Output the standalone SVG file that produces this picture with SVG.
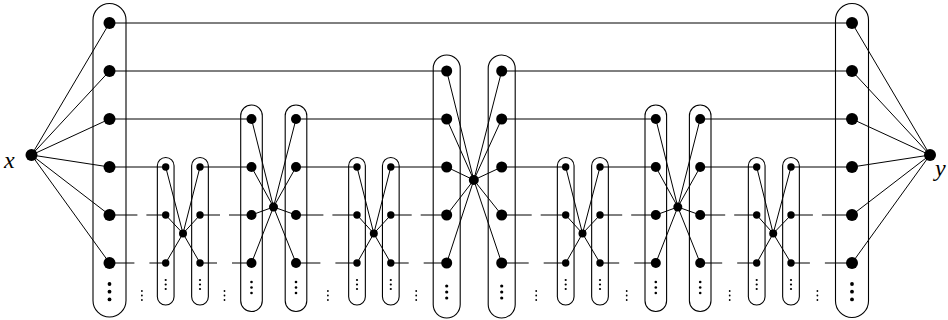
<svg xmlns="http://www.w3.org/2000/svg" xmlns:xlink="http://www.w3.org/1999/xlink" width="948" height="320" viewBox="0 0 948 320">
<style>
.cap{fill:none;stroke:#000;stroke-width:1.1}
.e{stroke:#000;stroke-width:1;fill:none}
circle{fill:#000}
.lbl{font-family:"Liberation Serif","DejaVu Serif",serif;font-style:italic;font-size:24px;fill:#000}
</style>
<defs>
<g id="dBig"><circle cx="0" cy="0" r="1.9"/><circle cx="0" cy="7.7" r="1.9"/><circle cx="0" cy="15.4" r="1.9"/></g>
<g id="dBP"><circle cx="0" cy="0" r="1.6"/><circle cx="0" cy="6" r="1.6"/><circle cx="0" cy="12" r="1.6"/></g>
<g id="dMed"><circle cx="0" cy="0" r="1.3"/><circle cx="0" cy="5.5" r="1.3"/><circle cx="0" cy="11" r="1.3"/></g>
<g id="dSm"><circle cx="0" cy="0" r="1.1"/><circle cx="0" cy="4.5" r="1.1"/><circle cx="0" cy="9" r="1.1"/></g>
<g id="dBt"><circle cx="0" cy="0" r="0.9"/><circle cx="0" cy="4.5" r="0.9"/><circle cx="0" cy="9" r="0.9"/></g>
</defs>

<g id="connectors" class="e">
<!-- x and y fans -->
<path d="M31.5 155L109.5 23M31.5 155L109.5 71M31.5 155L109.5 119M31.5 155L109.5 167M31.5 155L109.5 215M31.5 155L109.5 263"/>
<path d="M930 155L852 23M930 155L852 71M930 155L852 119M930 155L852 167M930 155L852 215M930 155L852 263"/>
<!-- row 0 -->
<path d="M109.5 23H852"/>
<!-- row 1 -->
<path d="M109.5 71H446.7M501.7 71H852"/>
<!-- row 2 -->
<path d="M109.5 119H251.5M296 119H446.7M501.7 119H655.8M700.2 119H852"/>
<!-- row 3 -->
<path d="M109.5 167H165.7M200 167H251.5M296 167H357M390.8 167H446.7M501.7 167H565.7M600 167H655.8M700.2 167H756.7M791 167H852"/>
<!-- row 4 (broken) -->
<path d="M109.5 215H137.4M146.4 215H165.7M200 215H220M229 215H251.5M296 215H323.4M332.4 215H357M390.8 215H411.7M420.7 215H446.7M501.7 215H531.7M540.7 215H565.7M600 215H622.2M631.2 215H655.8M700.2 215H725.2M734.2 215H756.7M791 215H812.9M821.9 215H852"/>
<!-- row 5 (broken) -->
<path d="M109.5 263H134.4M149.4 263H165.7M200 263H217M232 263H251.5M296 263H320.4M335.4 263H357M390.8 263H408.7M423.7 263H446.7M501.7 263H528.7M543.7 263H565.7M600 263H619.2M634.2 263H655.8M700.2 263H722.2M737.2 263H756.7M791 263H809.9M824.9 263H852"/>
<!-- small pair 1 -->
<path d="M183 233.5L165.7 167M183 233.5L165.7 215M183 233.5L165.7 263M183 233.5L200 167M183 233.5L200 215M183 233.5L200 263"/>
<!-- small pair 2 -->
<path d="M373.8 233.5L357 167M373.8 233.5L357 215M373.8 233.5L357 263M373.8 233.5L390.8 167M373.8 233.5L390.8 215M373.8 233.5L390.8 263"/>
<!-- small pair 3 -->
<path d="M582.5 233.5L565.7 167M582.5 233.5L565.7 215M582.5 233.5L565.7 263M582.5 233.5L600 167M582.5 233.5L600 215M582.5 233.5L600 263"/>
<!-- small pair 4 -->
<path d="M773.2 233.5L756.7 167M773.2 233.5L756.7 215M773.2 233.5L756.7 263M773.2 233.5L791 167M773.2 233.5L791 215M773.2 233.5L791 263"/>
<!-- medium pair 1 -->
<path d="M273.5 207L251.5 119M273.5 207L251.5 167M273.5 207L251.5 215M273.5 207L251.5 263M273.5 207L296 119M273.5 207L296 167M273.5 207L296 215M273.5 207L296 263"/>
<!-- medium pair 2 -->
<path d="M677.8 207L655.8 119M677.8 207L655.8 167M677.8 207L655.8 215M677.8 207L655.8 263M677.8 207L700.2 119M677.8 207L700.2 167M677.8 207L700.2 215M677.8 207L700.2 263"/>
<!-- big pair -->
<path d="M473.8 180L446.7 71M473.8 180L446.7 119M473.8 180L446.7 167M473.8 180L446.7 215M473.8 180L446.7 263M473.8 180L501.7 71M473.8 180L501.7 119M473.8 180L501.7 167M473.8 180L501.7 215M473.8 180L501.7 263"/>
</g>

<g id="node-x">
<circle cx="31.5" cy="155" r="6"/>
<text class="lbl" x="4" y="168">x</text>
</g>
<g id="node-y">
<circle cx="930" cy="155" r="6"/>
<text class="lbl" x="935" y="176">y</text>
</g>

<g id="col-left">
<rect class="cap" x="93" y="3.5" width="33" height="313.5" rx="16.5"/>
<circle cx="109.5" cy="23" r="6"/><circle cx="109.5" cy="71" r="6"/><circle cx="109.5" cy="119" r="6"/>
<circle cx="109.5" cy="167" r="6"/><circle cx="109.5" cy="215" r="6"/><circle cx="109.5" cy="263" r="6"/>
<use xlink:href="#dBig" x="109.5" y="284"/>
</g>
<g id="col-right">
<rect class="cap" x="835.5" y="3.5" width="33" height="314" rx="16.5"/>
<circle cx="852" cy="23" r="6"/><circle cx="852" cy="71" r="6"/><circle cx="852" cy="119" r="6"/>
<circle cx="852" cy="167" r="6"/><circle cx="852" cy="215" r="6"/><circle cx="852" cy="263" r="6"/>
<use xlink:href="#dBig" x="852" y="284"/>
</g>

<!-- small pair 1 -->
<g id="s1-left">
<rect class="cap" x="157.35" y="157.5" width="16.7" height="147.5" rx="8.35"/>
<circle cx="165.7" cy="167" r="3.7"/><circle cx="165.7" cy="215" r="3.7"/><circle cx="165.7" cy="263" r="3.7"/>
<use xlink:href="#dSm" x="165.7" y="280"/>
</g>
<g id="s1-right">
<rect class="cap" x="191.65" y="157.5" width="16.7" height="147.5" rx="8.35"/>
<circle cx="200" cy="167" r="3.7"/><circle cx="200" cy="215" r="3.7"/><circle cx="200" cy="263" r="3.7"/>
<use xlink:href="#dSm" x="200" y="280"/>
</g>
<g id="s1-center"><circle cx="183" cy="233.5" r="4"/></g>

<!-- medium pair 1 -->
<g id="m1-left">
<rect class="cap" x="240.7" y="105" width="21.6" height="206.5" rx="10.8"/>
<circle cx="251.5" cy="119" r="5"/><circle cx="251.5" cy="167" r="5"/><circle cx="251.5" cy="215" r="5"/><circle cx="251.5" cy="263" r="5"/>
<use xlink:href="#dMed" x="251.5" y="282"/>
</g>
<g id="m1-right">
<rect class="cap" x="285.2" y="105" width="21.6" height="206.5" rx="10.8"/>
<circle cx="296" cy="119" r="5"/><circle cx="296" cy="167" r="5"/><circle cx="296" cy="215" r="5"/><circle cx="296" cy="263" r="5"/>
<use xlink:href="#dMed" x="296" y="282"/>
</g>
<g id="m1-center"><circle cx="273.5" cy="207" r="4.5"/></g>

<!-- small pair 2 -->
<g id="s2-left">
<rect class="cap" x="348.65" y="157.5" width="16.7" height="147.5" rx="8.35"/>
<circle cx="357" cy="167" r="3.7"/><circle cx="357" cy="215" r="3.7"/><circle cx="357" cy="263" r="3.7"/>
<use xlink:href="#dSm" x="357" y="280"/>
</g>
<g id="s2-right">
<rect class="cap" x="382.45" y="157.5" width="16.7" height="147.5" rx="8.35"/>
<circle cx="390.8" cy="167" r="3.7"/><circle cx="390.8" cy="215" r="3.7"/><circle cx="390.8" cy="263" r="3.7"/>
<use xlink:href="#dSm" x="390.8" y="280"/>
</g>
<g id="s2-center"><circle cx="373.8" cy="233.5" r="4"/></g>

<!-- big pair -->
<g id="b-left">
<rect class="cap" x="433.2" y="55" width="27" height="263" rx="13.5"/>
<circle cx="446.7" cy="71" r="5.5"/><circle cx="446.7" cy="119" r="5.5"/><circle cx="446.7" cy="167" r="5.5"/><circle cx="446.7" cy="215" r="5.5"/><circle cx="446.7" cy="263" r="5.5"/>
<use xlink:href="#dBP" x="446.7" y="286"/>
</g>
<g id="b-right">
<rect class="cap" x="488.2" y="55" width="27" height="263" rx="13.5"/>
<circle cx="501.7" cy="71" r="5.5"/><circle cx="501.7" cy="119" r="5.5"/><circle cx="501.7" cy="167" r="5.5"/><circle cx="501.7" cy="215" r="5.5"/><circle cx="501.7" cy="263" r="5.5"/>
<use xlink:href="#dBP" x="501.7" y="286"/>
</g>
<g id="b-center"><circle cx="473.8" cy="180" r="5"/></g>

<!-- small pair 3 -->
<g id="s3-left">
<rect class="cap" x="557.35" y="157.5" width="16.7" height="147.5" rx="8.35"/>
<circle cx="565.7" cy="167" r="3.7"/><circle cx="565.7" cy="215" r="3.7"/><circle cx="565.7" cy="263" r="3.7"/>
<use xlink:href="#dSm" x="565.7" y="280"/>
</g>
<g id="s3-right">
<rect class="cap" x="591.65" y="157.5" width="16.7" height="147.5" rx="8.35"/>
<circle cx="600" cy="167" r="3.7"/><circle cx="600" cy="215" r="3.7"/><circle cx="600" cy="263" r="3.7"/>
<use xlink:href="#dSm" x="600" y="280"/>
</g>
<g id="s3-center"><circle cx="582.5" cy="233.5" r="4"/></g>

<!-- medium pair 2 -->
<g id="m2-left">
<rect class="cap" x="645" y="105" width="21.6" height="206.5" rx="10.8"/>
<circle cx="655.8" cy="119" r="5"/><circle cx="655.8" cy="167" r="5"/><circle cx="655.8" cy="215" r="5"/><circle cx="655.8" cy="263" r="5"/>
<use xlink:href="#dMed" x="655.8" y="282"/>
</g>
<g id="m2-right">
<rect class="cap" x="689.4" y="105" width="21.6" height="206.5" rx="10.8"/>
<circle cx="700.2" cy="119" r="5"/><circle cx="700.2" cy="167" r="5"/><circle cx="700.2" cy="215" r="5"/><circle cx="700.2" cy="263" r="5"/>
<use xlink:href="#dMed" x="700.2" y="282"/>
</g>
<g id="m2-center"><circle cx="677.8" cy="207" r="4.5"/></g>

<!-- small pair 4 -->
<g id="s4-left">
<rect class="cap" x="748.35" y="157.5" width="16.7" height="147.5" rx="8.35"/>
<circle cx="756.7" cy="167" r="3.7"/><circle cx="756.7" cy="215" r="3.7"/><circle cx="756.7" cy="263" r="3.7"/>
<use xlink:href="#dSm" x="756.7" y="280"/>
</g>
<g id="s4-right">
<rect class="cap" x="782.65" y="157.5" width="16.7" height="147.5" rx="8.35"/>
<circle cx="791" cy="167" r="3.7"/><circle cx="791" cy="215" r="3.7"/><circle cx="791" cy="263" r="3.7"/>
<use xlink:href="#dSm" x="791" y="280"/>
</g>
<g id="s4-center"><circle cx="773.2" cy="233.5" r="4"/></g>

<!-- dots between columns -->
<g id="between-dots">
<use xlink:href="#dBt" x="141.9" y="291"/>
<use xlink:href="#dBt" x="224.5" y="291"/>
<use xlink:href="#dBt" x="327.9" y="291"/>
<use xlink:href="#dBt" x="416.2" y="291"/>
<use xlink:href="#dBt" x="536.2" y="291"/>
<use xlink:href="#dBt" x="626.7" y="291"/>
<use xlink:href="#dBt" x="729.7" y="291"/>
<use xlink:href="#dBt" x="817.4" y="291"/>
</g>
</svg>
